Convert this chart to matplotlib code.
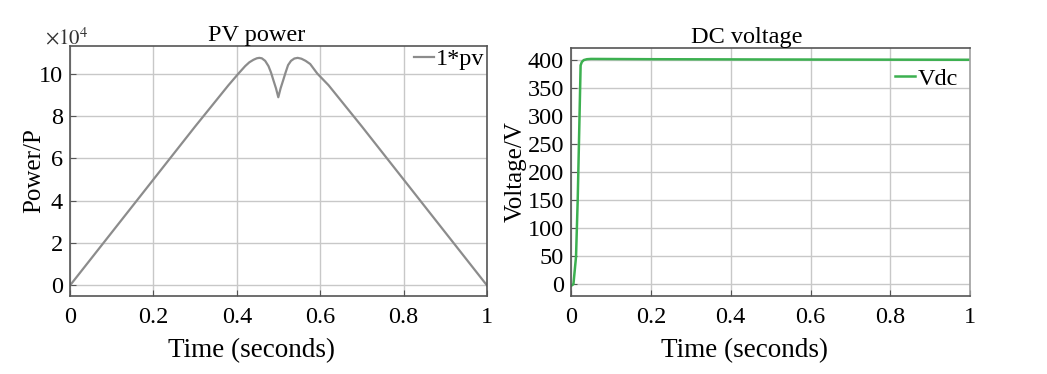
import numpy as np
import matplotlib
matplotlib.use("Agg")
import matplotlib.pyplot as plt

plt.rcParams["font.family"] = ["Liberation Serif", "DejaVu Serif"]
plt.rcParams["mathtext.fontset"] = "stix"

# PV power curve, values in units of 1e4 W
pv_time = [0.0, 0.1, 0.2, 0.3, 0.38, 0.404, 0.42, 0.43, 0.44, 0.448, 0.454,
           0.46, 0.468, 0.476, 0.482, 0.488, 0.494, 0.4995, 0.505, 0.511, 0.517,
           0.523, 0.53, 0.538, 0.546, 0.555, 0.565, 0.576, 0.593, 0.62, 0.7,
           0.8, 0.9, 1.0]
pv_power = [0.0, 2.5, 5.0, 7.5, 9.45, 10.0, 10.35, 10.53, 10.65, 10.72, 10.74,
            10.72, 10.6, 10.35, 10.05, 9.67, 9.3, 8.88, 9.3, 9.67, 10.05,
            10.4, 10.6, 10.71, 10.74, 10.7, 10.6, 10.45, 10.0, 9.45, 7.5,
            5.0, 2.5, 0.0]

# DC link voltage
vdc_time = [0.0, 0.006, 0.0125, 0.0167, 0.020, 0.024, 0.027, 0.032, 0.04, 0.05,
            0.2, 0.5, 1.0]
vdc = [-3, 0, 49, 150, 257, 390, 396, 399.5, 401, 401.5, 401, 400.5, 400]

fig = plt.figure(figsize=(10.47, 3.74), dpi=100)
ax1 = fig.add_axes([0.0669, 0.2086, 0.3982, 0.6684])
ax2 = fig.add_axes([0.5454, 0.2086, 0.3812, 0.6631])

xticks = [0, 0.2, 0.4, 0.6, 0.8, 1]
xlabels = ["0", "0.2", "0.4", "0.6", "0.8", "1"]

for ax in (ax1, ax2):
    ax.grid(True, color="#c8c8c8", linewidth=1.0)
    ax.set_axisbelow(True)
    ax.set_xlim(0, 1)
    ax.set_xticks(xticks)
    ax.set_xticklabels(xlabels)
    ax.tick_params(labelsize=17.5, direction="in", length=4, color="#555555", pad=5)
    ax.tick_params(axis="x", pad=8)
    for s in ax.spines.values():
        s.set_color("#555555")
        s.set_linewidth(1.2)
    ax.set_xlabel("Time (seconds)", fontsize=19.5, x=0.435, labelpad=7)

ax1.plot(pv_time, pv_power, color="#8c8c8c", linewidth=1.6, label="1*pv")
ax1.set_ylim(-0.5, 11.3)
ax1.set_yticks([0, 2, 4, 6, 8, 10])
ax1.set_ylabel("Power/P", fontsize=18)
ax1.yaxis.set_label_coords(-0.06, 0.5)
ax1.set_title("PV power", fontsize=17.5, x=0.448, pad=3)
ax1.text(-0.06, 0.985, r"$\times10^{4}$", transform=ax1.transAxes, fontsize=15,
         ha="left", va="bottom", color="#333333")
ax1.legend(loc="upper right", fontsize=17.5, frameon=False, handlelength=0.8,
           handletextpad=0.1, borderaxespad=0.0, borderpad=0.1)

ax2.plot(vdc_time, vdc, color="#3cb050", linewidth=1.8, label="Vdc")
ax2.set_ylim(-21, 421)
ax2.set_yticks(list(range(0, 401, 50)))
ax2.set_ylabel("Voltage/V", fontsize=18)
ax2.yaxis.set_label_coords(-0.11, 0.5)
ax2.set_title("DC voltage", fontsize=17.5, x=0.441, pad=3)
ax2.spines["right"].set_color("#a0a0a0")
ax2.legend(loc="upper right", fontsize=17.5, frameon=False, handlelength=0.8,
           handletextpad=0.1, borderaxespad=0.0, borderpad=0.1,
           bbox_to_anchor=(0.975, 0.93))

fig.savefig("out.png", dpi=100)
